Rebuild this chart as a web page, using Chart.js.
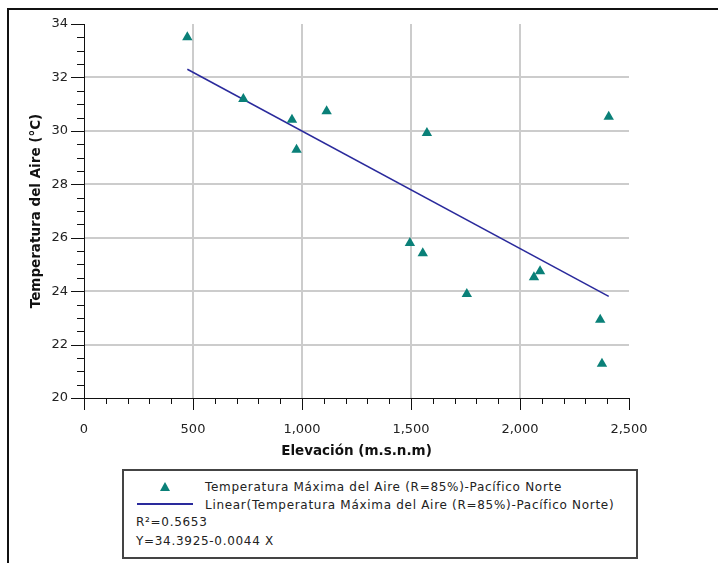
<!DOCTYPE html>
<html lang="es">
<head>
<meta charset="UTF-8">
<title>Temperatura vs Elevación</title>
<script src="https://cdn.jsdelivr.net/npm/chart.js"></script>
<style>
    body { margin: 0; background: #fff; font-family: "DejaVu Sans", sans-serif; }
    #wrap { position: relative; width: 718px; height: 563px; overflow: hidden; }
    #marco { position: absolute; left: 7px; top: 8px; width: 800px; height: 700px;
             border-top: 2px solid #111; border-left: 2px solid #111; }
    #leyenda { position: absolute; left: 122px; top: 469px; width: 512px; height: 86px;
               border: 2px solid #444; background: #fff; font-size: 12px; color: #222;
               letter-spacing: 0.7px; }
    #leyenda div { position: absolute; white-space: nowrap; line-height: 14px; }
    .tri { width: 0; height: 0; border-left: 5px solid transparent; border-right: 5px solid transparent;
           border-bottom: 9px solid #0a8078; }
    .lin { width: 56px; height: 0; border-top: 2px solid #2a2a9c; }
    canvas { position: absolute; left: 0; top: 0; }
</style>
</head>
<body>
<div id="wrap">
    <div id="marco"></div>
    <canvas id="grafico" width="718" height="563"></canvas>
    <div id="leyenda">
        <div class="tri" style="left:36px; top:11px;"></div>
        <div style="left:81px; top:9px;">Temperatura Máxima del Aire (R=85%)-Pacífico Norte</div>
        <div class="lin" style="left:13px; top:32px;"></div>
        <div style="left:81px; top:27px;">Linear(Temperatura Máxima del Aire (R=85%)-Pacífico Norte)</div>
        <div style="left:12px; top:44px;">R²=0.5653</div>
        <div style="left:12px; top:63px;">Y=34.3925-0.0044 X</div>
    </div>
</div>

<script>
    // datos
    const elevacion = [474, 731, 954, 975, 1113, 1495, 1554, 1573, 1756, 2064, 2092, 2368, 2376, 2407];
    const temperatura = [33.50, 31.19, 30.42, 29.29, 30.73, 25.80, 25.42, 29.92, 23.89, 24.52, 24.74, 22.93, 21.28, 30.53];

    // recta de regresion del legend
    const intercepto = 34.3925;
    const pendiente = -0.0044;

    const ticksX = [0, 500, 1000, 1500, 2000, 2500];
    const ticksY = [20, 22, 24, 26, 28, 30, 32, 34];

    const puntos = elevacion.map((x, i) => ({ x: x, y: temperatura[i] }));
    const xMin = Math.min(...elevacion);
    const xMax = Math.max(...elevacion);
    const recta = [
        { x: xMin, y: intercepto + pendiente * xMin },
        { x: xMax, y: intercepto + pendiente * xMax }
    ];

    const fuente = "DejaVu Sans";

    // marcas de los ejes (mayores y menores)
    const marcas = {
        id: 'marcas',
        afterDraw(chart) {
            const ctx = chart.ctx;
            const sx = chart.scales.x, sy = chart.scales.y;
            ctx.save();
            ctx.strokeStyle = '#111';
            ctx.lineWidth = 1;
            sx.ticks.forEach(t => {
                const px = Math.round(sx.getPixelForValue(t.value)) + 0.5;
                const largo = ticksX.includes(t.value) ? 12 : 6;
                ctx.beginPath();
                ctx.moveTo(px, sx.top);
                ctx.lineTo(px, sx.top + largo);
                ctx.stroke();
            });
            sy.ticks.forEach(t => {
                const py = Math.round(sy.getPixelForValue(t.value)) + 0.5;
                const largo = ticksY.includes(t.value) ? 13 : 7;
                ctx.beginPath();
                ctx.moveTo(sy.right, py);
                ctx.lineTo(sy.right - largo, py);
                ctx.stroke();
            });
            ctx.restore();
        }
    };

    new Chart(document.getElementById('grafico'), {
        type: 'scatter',
        data: {
            datasets: [{
                label: 'Temperatura Máxima del Aire (R=85%)-Pacífico Norte',
                data: puntos,
                pointStyle: 'triangle',
                pointRadius: 6,
                pointBackgroundColor: '#0a8078',
                pointBorderColor: '#0a8078',
                pointBorderWidth: 0
            }, {
                label: 'Linear(Temperatura Máxima del Aire (R=85%)-Pacífico Norte)',
                data: recta,
                showLine: true,
                pointRadius: 0,
                borderColor: '#2a2a9c',
                borderWidth: 1.5
            }]
        },
        options: {
            responsive: false,
            animation: false,
            layout: { padding: { left: 24, top: 24, right: 89, bottom: 103 } },
            plugins: { legend: { display: false }, tooltip: { enabled: false } },
            scales: {
                x: {
                    type: 'linear',
                    min: 0, max: 2500,
                    afterFit: s => { s.height = 62; },
                    ticks: {
                        stepSize: 100,
                        autoSkip: false,
                        maxRotation: 0,
                        padding: 24,
                        color: '#222',
                        font: { family: fuente, size: 13 },
                        callback: v => ticksX.includes(v) ? v.toLocaleString('en-US') : ''
                    },
                    grid: {
                        drawTicks: false,
                        color: c => (c.tick && ticksX.includes(c.tick.value) && c.tick.value > 0 && c.tick.value < 2500) ? '#cccccc' : 'rgba(0,0,0,0)',
                        lineWidth: 2
                    },
                    border: { display: true, color: '#111', width: 1 },
                    title: {
                        display: true,
                        text: 'Elevación (m.s.n.m)',
                        color: '#111',
                        font: { family: fuente, size: 13.5, weight: 'bold' },
                        padding: { top: 2, bottom: 0 }
                    }
                },
                y: {
                    min: 20, max: 34,
                    afterFit: s => { s.width = 60; },
                    ticks: {
                        stepSize: 0.5,
                        autoSkip: false,
                        padding: 16,
                        color: '#222',
                        font: { family: fuente, size: 13 },
                        callback: v => ticksY.includes(v) ? v : ''
                    },
                    grid: {
                        drawTicks: false,
                        color: c => (c.tick && ticksY.includes(c.tick.value) && c.tick.value > 20 && c.tick.value < 34) ? '#cccccc' : 'rgba(0,0,0,0)',
                        lineWidth: 2
                    },
                    border: { display: true, color: '#111', width: 1 },
                    title: {
                        display: true,
                        text: 'Temperatura del Aire (°C)',
                        color: '#111',
                        font: { family: fuente, size: 13.5, weight: 'bold' },
                        padding: { top: 4, bottom: 2 }
                    }
                }
            }
        },
        plugins: [marcas]
    });
</script>
</body>
</html>
